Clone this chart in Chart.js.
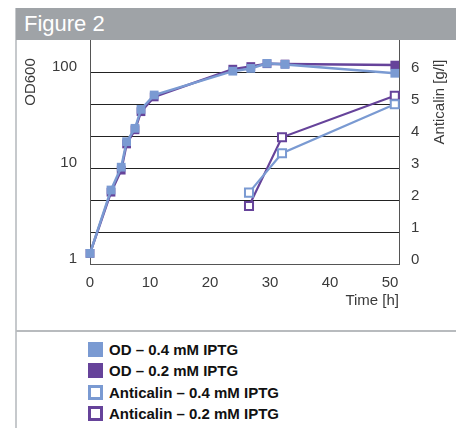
<!DOCTYPE html>
<html>
<head>
<meta charset="utf-8">
<script src="https://cdn.jsdelivr.net/npm/chart.js@4.4.1/dist/chart.umd.min.js"></script>
<style>
  html, body { margin: 0; padding: 0; background: #fff; }
  body { width: 456px; height: 428px; position: relative; overflow: hidden;
         font-family: "Liberation Sans", Arial, Helvetica, sans-serif; }
  #frame-left { position: absolute; left: 15px; top: 8px; width: 2px; height: 420px; background: #c6c9cc; }
  #header { position: absolute; left: 16px; top: 8px; width: 440px; height: 32px; background: #9fa3a7;
            color: #fff; font-size: 22px; line-height: 32px; padding-left: 8px; box-sizing: border-box; }
  #sep { position: absolute; left: 16px; top: 330px; width: 440px; height: 2px; background: #b8bbbe; }
  #wrap { position: absolute; left: 0; top: 0; width: 456px; height: 330px; }
  #legend { position: absolute; left: 88px; top: 339px; margin: 0; padding: 0; list-style: none; }
  #legend li { height: 21.3px; display: flex; align-items: center; font-weight: bold; font-size: 15px; color: #111; }
  #legend .box { width: 15px; height: 15px; box-sizing: border-box; margin-right: 6px; }
</style>
</head>
<body>
<div id="frame-left"></div>
<div id="header">Figure 2</div>
<div id="wrap"><canvas id="chart"></canvas></div>
<div id="sep"></div>
<ul id="legend"></ul>
<script>
const labels = ['OD – 0.4 mM IPTG', 'OD – 0.2 mM IPTG', 'Anticalin – 0.4 mM IPTG', 'Anticalin – 0.2 mM IPTG'];
const timeOD = [0, 3.5, 5.2, 6.1, 7.5, 8.5, 10.7, 23.8, 26.8, 29.5, 32.5, 50.8];
const od04 = [1.29, 5.9, 10.2, 18.8, 25.9, 40.8, 57.6, 102, 109, 123, 120, 97];
const od02 = [1.29, 5.6, 9.5, 17.8, 25, 38.6, 55, 107, 114, 122, 121, 118];
const timeAnti = [26.5, 32.0, 50.8];
const anti04 = [2.23, 3.46, 4.99];
const anti02 = [1.81, 3.96, 5.26];
const xTicks = [0, 10, 20, 30, 40, 50];
const odTicks = [1, 10, 100];
const antiTicks = [0, 1, 2, 3, 4, 5, 6];
const xTitle = 'Time [h]';
const leftTitle = 'OD600';
const rightTitle = 'Anticalin [g/l]';

const BLUE = '#7a9ad2';
const PURPLE = '#66439a';
const TEXT = '#3a3a3a';
const FONT = '"Liberation Sans", Arial, Helvetica, sans-serif';

function pts(xs, ys){ return xs.map((x, i) => ({x, y: ys[i]})); }

function filled(label, color, xs, ys){
  return { label, data: pts(xs, ys), yAxisID: 'y', borderColor: color, backgroundColor: color,
    borderWidth: 2.5, pointStyle: 'rect', pointRadius: 6.2, pointBorderWidth: 0,
    pointBackgroundColor: color, clip: false, tension: 0 };
}
function open(label, color, xs, ys){
  return { label, data: pts(xs, ys), yAxisID: 'y2', borderColor: color, backgroundColor: '#fff',
    borderWidth: 2.2, pointStyle: 'rect', pointRadius: 5.7, pointBorderWidth: 2,
    pointBorderColor: color, pointBackgroundColor: '#fff', clip: false, tension: 0 };
}

const yTitles = {
  id: 'yTitles',
  afterDraw(chart){
    const {ctx, chartArea: a} = chart;
    ctx.save();
    ctx.fillStyle = TEXT;
    ctx.font = '15px ' + FONT;
    ctx.textAlign = 'center';
    ctx.textBaseline = 'middle';
    ctx.translate(a.left - 59, a.top + 42);
    ctx.rotate(-Math.PI / 2);
    ctx.fillText(leftTitle, 0, 0);
    ctx.restore();
    ctx.save();
    ctx.fillStyle = TEXT;
    ctx.font = '15px ' + FONT;
    ctx.textAlign = 'center';
    ctx.textBaseline = 'middle';
    ctx.translate(a.right + 41, a.top + 62);
    ctx.rotate(-Math.PI / 2);
    ctx.fillText(rightTitle, 0, 0);
    ctx.restore();
  }
};

const chart = new Chart(document.getElementById('chart'), {
  type: 'line',
  data: {
    datasets: [
      filled(labels[0], BLUE, timeOD, od04),
      filled(labels[1], PURPLE, timeOD, od02),
      open(labels[2], BLUE, timeAnti, anti04),
      open(labels[3], PURPLE, timeAnti, anti02)
    ]
  },
  options: {
    responsive: true,
    maintainAspectRatio: false,
    animation: false,
    events: [],
    layout: { padding: { top: 40, left: 0, right: 0, bottom: 0 } },
    plugins: { legend: { display: false }, tooltip: { enabled: false } },
    scales: {
      x: {
        type: 'linear', min: 0, max: 51.5,
        afterBuildTicks: s => { s.ticks = xTicks.map(v => ({value: v})); },
        afterFit: s => { s.height = 66; },
        grid: { display: false, drawTicks: false },
        border: { display: true, color: '#555', width: 1 },
        ticks: { color: TEXT, font: { family: FONT, size: 15 }, padding: 10, maxRotation: 0 },
        title: { display: true, text: xTitle, align: 'end', color: TEXT,
                 font: { family: FONT, size: 15 }, padding: { top: 4, bottom: 20 } }
      },
      y: {
        type: 'logarithmic', position: 'left', min: 1, max: Math.pow(10, 7 / 3),
        afterBuildTicks: s => { s.ticks = odTicks.map(v => ({value: v})); },
        afterFit: s => { s.width = 90; },
        grid: { display: false, drawTicks: false },
        border: { display: true, color: '#555', width: 1 },
        ticks: { color: TEXT, font: { family: FONT, size: 15 }, padding: 13, labelOffset: -5,
                 callback: v => String(v) }
      },
      y2: {
        type: 'linear', position: 'right', min: 0, max: 7,
        afterBuildTicks: s => { s.ticks = antiTicks.map(v => ({value: v})); },
        afterFit: s => { s.width = 57; },
        grid: { display: true, drawTicks: false, color: '#222', lineWidth: 1 },
        border: { display: true, color: '#555', width: 1 },
        ticks: { color: TEXT, font: { family: FONT, size: 15 }, padding: 12, labelOffset: -4 }
      }
    }
  },
  plugins: [yTitles]
});

// legend built from the datasets
const legendEl = document.getElementById('legend');
chart.data.datasets.forEach(ds => {
  const li = document.createElement('li');
  const box = document.createElement('span');
  box.className = 'box';
  if (ds.yAxisID === 'y') box.style.background = ds.borderColor;
  else { box.style.background = '#fff'; box.style.border = '3px solid ' + ds.borderColor; }
  li.appendChild(box);
  li.appendChild(document.createTextNode(ds.label));
  legendEl.appendChild(li);
});
</script>
</body>
</html>
